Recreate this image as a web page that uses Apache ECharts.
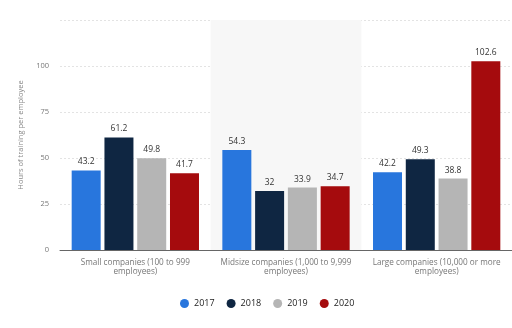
<!DOCTYPE html>
<html><head><meta charset="utf-8">
<script src="https://cdn.jsdelivr.net/npm/echarts@6/dist/echarts.min.js"></script>
<style>html,body{margin:0;padding:0;background:#fff}#c{width:512px;height:328px}</style>
</head><body><div id="c"></div>
<script>
const categories = ['Small companies (100 to 999\nemployees)', 'Midsize companies (1,000 to 9,999\nemployees)', 'Large companies (10,000 or more\nemployees)'];
const years = ['2017', '2018', '2019', '2020'];
const v2017 = [43.2, 54.3, 42.2];
const v2018 = [61.2, 32, 49.3];
const v2019 = [49.8, 33.9, 38.8];
const v2020 = [41.7, 34.7, 102.6];
const yTicks = [0, 25, 50, 75, 100, 125];
const colors = ['#2876dd', '#0f2642', '#b5b5b5', '#a50b0d'];
const FONT = 'Open Sans';
const seriesData = [v2017, v2018, v2019, v2020];
const chart = echarts.init(document.getElementById('c'), null, {renderer: 'canvas'});
chart.setOption({
  animation: false,
  textStyle: {fontFamily: FONT},
  legend: {
    top: 294, left: 175, icon: 'circle', itemWidth: 9, itemHeight: 9, itemGap: 12,
    textStyle: {fontSize: 9, color: '#222', fontFamily: FONT},
    data: years
  },
  grid: {left: 60, top: 20, width: 454, height: 230},
  xAxis: {
    type: 'category', data: categories,
    axisTick: {show: false},
    axisLine: {lineStyle: {color: '#666', width: 1}},
    axisLabel: {fontSize: 8.2, color: '#777', lineHeight: 9, margin: 8, interval: 0, fontFamily: FONT},
    splitArea: {show: true, areaStyle: {color: ['rgba(0,0,0,0)', '#f7f7f7']}}
  },
  yAxis: {
    type: 'value', min: yTicks[0], max: yTicks[yTicks.length - 1], interval: 25,
    name: 'Hours of training per employee', nameLocation: 'middle', nameGap: 30,
    nameTextStyle: {fontSize: 7.5, color: '#888', fontFamily: FONT},
    axisLabel: {fontSize: 7.5, color: '#777', margin: 11, showMaxLabel: false, fontFamily: FONT},
    axisLine: {show: false}, axisTick: {show: false},
    splitLine: {lineStyle: {color: '#e3e3e3', type: [2, 2]}}
  },
  series: years.map((y, i) => ({
    name: y, type: 'bar', data: seriesData[i],
    barWidth: 29, barGap: '13%',
    itemStyle: {color: colors[i]},
    label: {show: true, position: 'top', fontSize: 8.5, color: '#333', distance: 4, fontFamily: FONT}
  }))
});
</script></body></html>
